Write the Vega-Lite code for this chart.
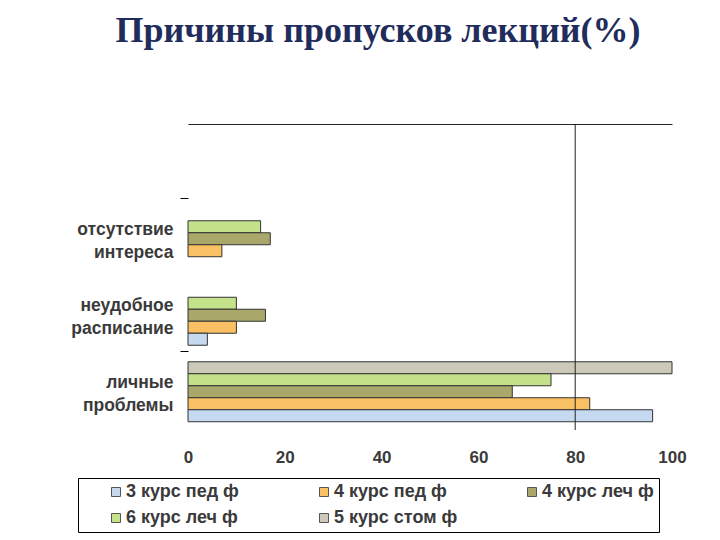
{
  "$schema": "https://vega.github.io/schema/vega-lite/v6.json",
  "autosize": {"type": "none"},
  "width": 484,
  "height": 306,
  "padding": {"left": 188, "top": 124, "right": 48, "bottom": 110},
  "background": "white",
  "title": {
    "text": "Причины пропусков лекций(%)",
    "font": "Liberation Serif",
    "fontSize": 36,
    "fontWeight": "bold",
    "color": "#1f2c5c",
    "anchor": "middle",
    "frame": "group",
    "dx": -52,
    "offset": 74
  },
  "config": {"view": {"stroke": null}},
  "data": {
    "values": [
      {"reason": "отсутствие интереса", "group": "6 курс леч ф", "value": 15},
      {"reason": "отсутствие интереса", "group": "4 курс леч ф", "value": 17},
      {"reason": "отсутствие интереса", "group": "4 курс пед ф", "value": 7},
      {"reason": "неудобное расписание", "group": "6 курс леч ф", "value": 10},
      {"reason": "неудобное расписание", "group": "4 курс леч ф", "value": 16},
      {"reason": "неудобное расписание", "group": "4 курс пед ф", "value": 10},
      {"reason": "неудобное расписание", "group": "3 курс пед ф", "value": 4},
      {"reason": "личные проблемы", "group": "5 курс стом ф", "value": 100},
      {"reason": "личные проблемы", "group": "6 курс леч ф", "value": 75},
      {"reason": "личные проблемы", "group": "4 курс леч ф", "value": 67},
      {"reason": "личные проблемы", "group": "4 курс пед ф", "value": 83},
      {"reason": "личные проблемы", "group": "3 курс пед ф", "value": 96}
    ]
  },
  "layer": [
    {
      "mark": {"type": "bar", "stroke": "#333333", "strokeWidth": 1},
      "encoding": {
        "y": {
          "field": "reason",
          "type": "nominal",
          "scale": {
            "domain": ["", "отсутствие интереса", "неудобное расписание", "личные проблемы"],
            "paddingInner": 0.216,
            "paddingOuter": 0.108
          },
          "axis": {
            "title": null,
            "domain": false,
            "ticks": true,
            "tickSize": 8,
            "tickColor": "#000000",
            "bandPosition": 1.11,
            "tickExtra": false,
            "tickOpacity": {
              "condition": {"test": "datum.value === '' || datum.value === 'неудобное расписание'", "value": 1},
              "value": 0
            },
            "labelExpr": "split(datum.label, ' ')",
            "labelFont": "Liberation Sans",
            "labelFontSize": 17.5,
            "labelFontWeight": "bold",
            "labelColor": "#3a3a3a",
            "labelLineHeight": 23,
            "labelPadding": 7,
            "labelOffset": -9,
            "labelAlign": "right"
          }
        },
        "yOffset": {
          "field": "group",
          "type": "nominal",
          "scale": {
            "domain": ["5 курс стом ф", "6 курс леч ф", "4 курс леч ф", "4 курс пед ф", "3 курс пед ф"],
            "paddingInner": 0,
            "paddingOuter": 0
          }
        },
        "x": {
          "field": "value",
          "type": "quantitative",
          "scale": {"domain": [0, 100], "nice": false},
          "axis": {
            "title": null,
            "values": [0, 20, 40, 60, 80, 100],
            "grid": false,
            "domain": false,
            "ticks": false,
            "labelFont": "Liberation Sans",
            "labelFontSize": 17,
            "labelFontWeight": "bold",
            "labelColor": "#3a3a3a",
            "labelPadding": 19,
            "labelFlush": false
          }
        },
        "color": {
          "field": "group",
          "type": "nominal",
          "scale": {
            "domain": ["3 курс пед ф", "4 курс пед ф", "4 курс леч ф", "6 курс леч ф", "5 курс стом ф"],
            "range": ["#c5d9f1", "#fac064", "#a9a86a", "#c4e28a", "#ccc9b8"]
          },
          "legend": {
            "title": null,
            "orient": "none",
            "legendX": -110,
            "legendY": 354,
            "direction": "horizontal",
            "columns": 3,
            "gridAlign": "all",
            "columnPadding": 41,
            "rowPadding": 8,
            "padding": 5,
            "strokeColor": "#000000",
            "symbolType": "square",
            "symbolSize": 81,
            "symbolStrokeColor": "#555555",
            "symbolStrokeWidth": 1,
            "symbolOffset": 24,
            "labelOffset": 1,
            "labelFont": "Liberation Sans",
            "labelFontSize": 18,
            "labelFontWeight": "bold",
            "labelColor": "#3a3a3a",
            "labelLimit": 300
          }
        }
      }
    },
    {
      "data": {"values": [{"ref": 80}]},
      "mark": {"type": "rule", "color": "#222222", "strokeWidth": 1},
      "encoding": {
        "x": {
          "field": "ref",
          "type": "quantitative",
          "axis": {
            "orient": "top",
            "title": null,
            "labels": false,
            "ticks": false,
            "grid": false,
            "domain": true,
            "domainColor": "#222222",
            "domainWidth": 1
          }
        }
      }
    }
  ],
  "resolve": {"axis": {"x": "independent"}}
}
